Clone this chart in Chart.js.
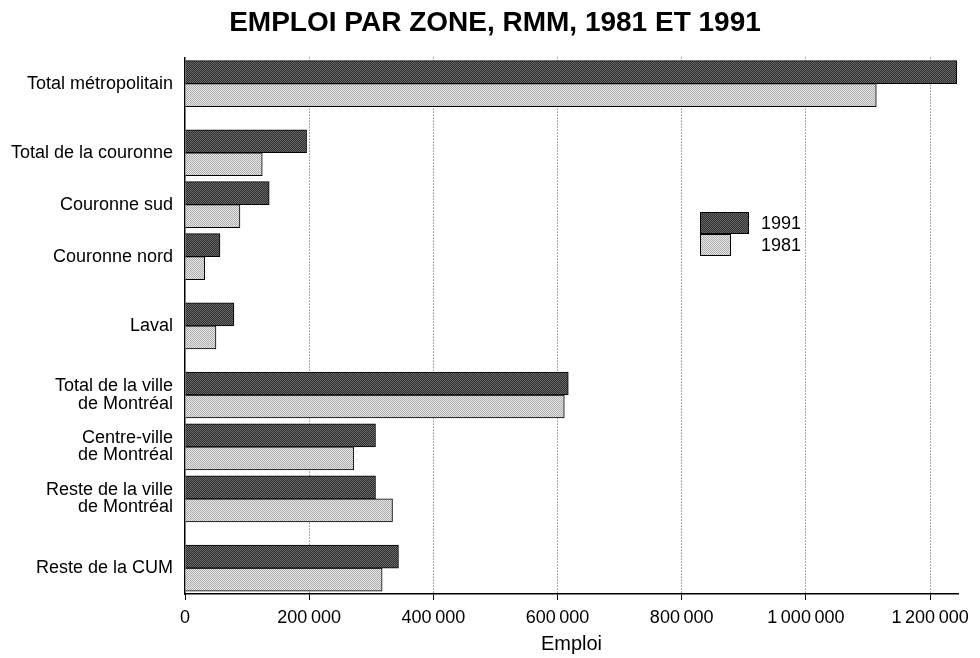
<!DOCTYPE html>
<html>
<head>
<meta charset="utf-8">
<script src="https://cdn.jsdelivr.net/npm/chart.js@4"></script>
<style>
  html, body { margin: 0; padding: 0; background: #fff; }
  #wrap { width: 980px; height: 658px; }
</style>
</head>
<body>
<div id="wrap"><canvas id="emploiChart"></canvas></div>
<script>
// Emploi par zone, RMM
const zones = [
    'Total métropolitain',
    'Total de la couronne',
    'Couronne sud',
    'Couronne nord',
    'Laval',
    ['Total de la ville', 'de Montréal'],
    ['Centre-ville', 'de Montréal'],
    ['Reste de la ville', 'de Montréal'],
    'Reste de la CUM'
];
const emploi1991 = [1243000, 195800, 135600, 56300, 78800, 617300, 306800, 306800, 343800];
const emploi1981 = [1113400, 124400, 88500, 31700, 49900, 610900, 271900, 334200, 317500];
const seriesLabels = ['1991', '1981'];
const xTickValues = [0, 200000, 400000, 600000, 800000, 1000000, 1200000];

// rows are not evenly spaced in the original: place them on a grid of blank slots
const rowSlot = [1, 5, 8, 11, 15, 19, 22, 25, 29];
const slotCount = 31;

const FONT = '"Liberation Sans", Arial, sans-serif';

function makePattern(base, dot) {
    const c = document.createElement('canvas');
    c.width = 2; c.height = 2;
    const g = c.getContext('2d');
    g.fillStyle = base;
    g.fillRect(0, 0, 2, 2);
    g.fillStyle = dot;
    g.fillRect(0, 0, 1, 1);
    g.fillRect(1, 1, 1, 1);
    return g.createPattern(c, 'repeat');
}

function spread(values) {
    const out = new Array(slotCount).fill(null);
    rowSlot.forEach((s, i) => { out[s] = values[i]; });
    return out;
}

function fmt(v) {
    return String(v).replace(/\B(?=(\d{3})+(?!\d))/g, '\u2009');
}

// the printed title sits a bit right of the page centre
const titleShift = {
    id: 'titleShift',
    afterLayout(chart) {
        if (chart.titleBlock) chart.titleBlock.left += 32;
    }
};

// small legend drawn inside the plot, like the printed one
const boxLegend = {
    id: 'boxLegend',
    afterDraw(chart) {
        const ctx = chart.ctx;
        const widths = [49, 31];
        const x = 700, y = 212, h = 22;
        ctx.save();
        chart.data.datasets.forEach((d, i) => {
            ctx.fillStyle = d.backgroundColor;
            ctx.fillRect(x, y + i * h, widths[i], h);
            ctx.strokeStyle = '#000';
            ctx.lineWidth = 1;
            ctx.strokeRect(x + 0.5, y + i * h + 0.5, widths[i] - 1, h - 1);
            ctx.fillStyle = '#000';
            ctx.font = '18px ' + FONT;
            ctx.textBaseline = 'middle';
            ctx.fillText(d.label, 761, y + i * h + h / 2 + 1);
        });
        ctx.restore();
    }
};

function initEmploiChart() {
    const ctx = document.getElementById('emploiChart').getContext('2d');
    const dark = makePattern('#2e2e2e', '#6a6a6a');
    const light = makePattern('#e8e8e8', '#acacac');
    const labels = spread(zones).map(z => z === null ? '' : z);

    new Chart(ctx, {
        type: 'bar',
        data: {
            labels: labels,
            datasets: [{
                label: seriesLabels[0],
                data: spread(emploi1991),
                backgroundColor: dark,
                borderColor: '#000',
                borderWidth: 1,
                barThickness: 23
            }, {
                label: seriesLabels[1],
                data: spread(emploi1981),
                backgroundColor: light,
                borderColor: '#000',
                borderWidth: 1,
                barThickness: 23
            }]
        },
        options: {
            indexAxis: 'y',
            responsive: true,
            maintainAspectRatio: false,
            animation: false,
            layout: { padding: { left: 0, right: 22, top: 0, bottom: 0 } },
            plugins: {
                legend: { display: false },
                tooltip: { enabled: false },
                title: {
                    display: true,
                    text: 'EMPLOI PAR ZONE, RMM, 1981 ET 1991',
                    color: '#000',
                    font: { family: FONT, size: 28, weight: 'bold' },
                    padding: { top: 6, bottom: 18 }
                }
            },
            scales: {
                x: {
                    min: 0,
                    max: 1245000,
                    afterBuildTicks: (scale) => { scale.ticks = xTickValues.map(v => ({ value: v })); },
                    afterFit: (scale) => { scale.height = 64; },
                    ticks: {
                        color: '#000',
                        font: { family: FONT, size: 18 },
                        padding: 7,
                        maxRotation: 0,
                        callback: (v) => fmt(v)
                    },
                    grid: {
                        color: (c) => c.tick && c.tick.value === 0 ? 'rgba(0,0,0,0)' : '#555',
                        lineWidth: 1,
                        tickLength: 6,
                        tickColor: '#000',
                        tickBorderDash: []
                    },
                    border: { display: true, color: '#000', width: 1.5, dash: [1, 2] },
                    title: {
                        display: true,
                        text: 'Emploi',
                        color: '#000',
                        font: { family: FONT, size: 20 },
                        padding: { top: 2, bottom: 2 }
                    }
                },
                y: {
                    afterFit: (scale) => { scale.width = 185; },
                    ticks: {
                        color: '#000',
                        font: { family: FONT, size: 18, lineHeight: 0.95 },
                        padding: 12,
                        autoSkip: false
                    },
                    grid: { display: true, color: 'rgba(0,0,0,0)', drawTicks: false },
                    border: { display: true, color: '#000', width: 1.5 }
                }
            }
        },
        plugins: [titleShift, boxLegend]
    });
}

document.addEventListener('DOMContentLoaded', () => {
    initEmploiChart();
});
</script>
</body>
</html>
